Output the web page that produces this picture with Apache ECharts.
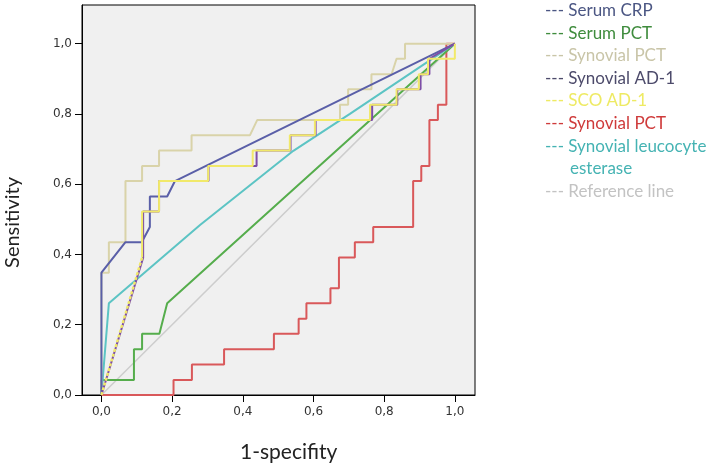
<!DOCTYPE html>
<html><head><meta charset="utf-8">
<script src="https://cdn.jsdelivr.net/npm/echarts@6/dist/echarts.min.js"></script>
<style>html,body{margin:0;padding:0;background:#fff}#c{width:709px;height:469px}</style>
</head><body><div id="c"></div>
<script>
// ---- data ----
const xTicks = [0, 0.2, 0.4, 0.6, 0.8, 1.0];
const yTicks = [0, 0.2, 0.4, 0.6, 0.8, 1.0];
const xTitle = '1-specifity';
const yTitle = 'Sensitivity';
const legendLabels = ['--- Serum CRP', '--- Serum PCT', '--- Synovial PCT', '--- Synovial AD-1', '--- SCO AD-1', '--- Synovial PCT', '--- Synovial leucocyte', 'esterase', '--- Reference line'];

const referenceLine = [[0,0],[1,1]];
const serumCRP = [[0,0],[0,0.348],[0.068,0.435],[0.114,0.435],[0.137,0.478],[0.137,0.565],[0.186,0.565],[0.208,0.609],[1,1]];
const serumPCT = [[0,0],[0,0.043],[0.092,0.043],[0.092,0.13],[0.115,0.13],[0.115,0.174],[0.164,0.174],[0.186,0.261],[1,1]];
const synovialPCT1 = [[0,0],[0,0.348],[0.021,0.348],[0.021,0.435],[0.068,0.435],[0.068,0.609],[0.115,0.609],[0.115,0.652],[0.163,0.652],[0.163,0.696],[0.255,0.696],[0.255,0.739],[0.42,0.739],[0.441,0.783],[0.675,0.783],[0.675,0.826],[0.698,0.826],[0.698,0.87],[0.764,0.87],[0.764,0.913],[0.821,0.913],[0.835,0.957],[0.859,0.957],[0.859,1],[1,1]];
const synovialAD1 = [[0,0],[0.118,0.391],[0.118,0.522],[0.163,0.522],[0.163,0.609],[0.303,0.609],[0.303,0.652],[0.439,0.652],[0.439,0.696],[0.535,0.696],[0.535,0.739],[0.606,0.739],[0.606,0.783],[0.766,0.783],[0.766,0.826],[0.837,0.826],[0.837,0.87],[0.903,0.87],[0.903,0.913],[0.928,0.913],[0.928,0.957],[1,1]];
const scoAD1 = [[0,0],[0.115,0.391],[0.115,0.522],[0.163,0.522],[0.163,0.609],[0.302,0.609],[0.302,0.652],[0.428,0.652],[0.428,0.696],[0.533,0.696],[0.533,0.739],[0.604,0.739],[0.604,0.783],[0.76,0.783],[0.76,0.826],[0.835,0.826],[0.835,0.87],[0.898,0.87],[0.898,0.913],[0.924,0.913],[0.924,0.957],[1,0.957],[1,1]];
const synovialPCT2 = [[0,0],[0.204,0],[0.204,0.043],[0.256,0.043],[0.256,0.087],[0.347,0.087],[0.347,0.13],[0.488,0.13],[0.488,0.174],[0.558,0.174],[0.558,0.217],[0.58,0.217],[0.58,0.261],[0.648,0.261],[0.648,0.304],[0.672,0.304],[0.672,0.391],[0.717,0.391],[0.717,0.435],[0.769,0.435],[0.769,0.478],[0.882,0.478],[0.882,0.609],[0.905,0.609],[0.905,0.652],[0.928,0.652],[0.928,0.783],[0.952,0.783],[0.952,0.826],[0.976,0.826],[0.976,1],[1,1]];
const leucocyteEsterase = [[0,0],[0.021,0.261],[0.279,0.484],[0.543,0.695],[0.703,0.8],[1,1]];

// ---- styles ----
const C = {
  ref: '#cdcdcd', crp: '#5a5fa8', spct: '#55ad4c', tan: '#d9d3a9', ad1: '#7d4ea6',
  sco: '#f1e96a', red: '#d9585a', teal: '#5cc4c4'
};
const legendColors = ['#4b5683', '#3f8c3d', '#c9c5a8', '#4d4b6b', '#eeea63', '#cf3b3b', '#45b3b3', '#45b3b3', '#c3c3c3'];

function line(name, data, color, extra) {
  return Object.assign({
    name, type: 'line', data, showSymbol: false, symbol: 'none', silent: true,
    lineStyle: { color, width: 2 }, animation: false
  }, extra || {});
}

const chart = echarts.init(document.getElementById('c'), null, { renderer: 'canvas' });
const fmt = v => v.toFixed(1).replace('.', ',');

const legendGraphics = legendLabels.map((t, i) => ({
  type: 'text',
  left: i === 7 ? 570 : 545,
  top: 2 + i * 22.6,
  style: { text: t, fill: legendColors[i], font: '17px Lato' }
}));

chart.setOption({
  backgroundColor: '#ffffff',
  animation: false,
  grid: { left: 82, right: 234, top: 5, bottom: 74, show: true, backgroundColor: '#f0f0f0', borderColor: '#000', borderWidth: 1 },
  xAxis: {
    type: 'value', min: -0.055, max: 1.057,
    axisLine: { show: true, onZero: false, lineStyle: { color: '#000', width: 1 } },
    axisTick: { show: true, inside: false, length: 7, lineStyle: { color: '#000' }, customValues: xTicks },
    axisLabel: { customValues: xTicks, formatter: fmt, color: '#333', fontFamily: 'DejaVu Sans', fontSize: 12, margin: 11 },
    splitLine: { show: false }
  },
  yAxis: {
    type: 'value', min: 0, max: 1.11,
    axisLine: { show: true, onZero: false, lineStyle: { color: '#000', width: 1 } },
    axisTick: { show: true, inside: false, length: 7, lineStyle: { color: '#000' }, customValues: yTicks },
    axisLabel: { customValues: yTicks, formatter: fmt, color: '#333', fontFamily: 'DejaVu Sans', fontSize: 12, margin: 10 },
    splitLine: { show: false }
  },
  graphic: [
    { type: 'text', left: 240, top: 442, style: { text: xTitle, fill: '#222', font: '21px Lato' } },
    { type: 'text', left: 3, top: 177, rotation: Math.PI / 2, style: { text: yTitle, fill: '#222', font: '20px Lato' } }
  ].concat(legendGraphics),
  series: [
    line('Reference line', referenceLine, C.ref, { lineStyle: { color: C.ref, width: 1.5 } }),
    line('Synovial PCT', synovialPCT2, C.red),
    line('Serum PCT', serumPCT, C.spct),
    line('Synovial leucocyte esterase', leucocyteEsterase, C.teal),
    line('Synovial PCT', synovialPCT1, C.tan),
    line('Serum CRP', serumCRP, C.crp),
    line('Synovial AD-1', synovialAD1, C.ad1),
    line('SCO AD-1', scoAD1.slice(0, 2), C.sco, { lineStyle: { color: C.sco, width: 2.5, type: [3, 2] } }),
    line('SCO AD-1', scoAD1.slice(1), C.sco)
  ]
});
</script>
</body></html>
